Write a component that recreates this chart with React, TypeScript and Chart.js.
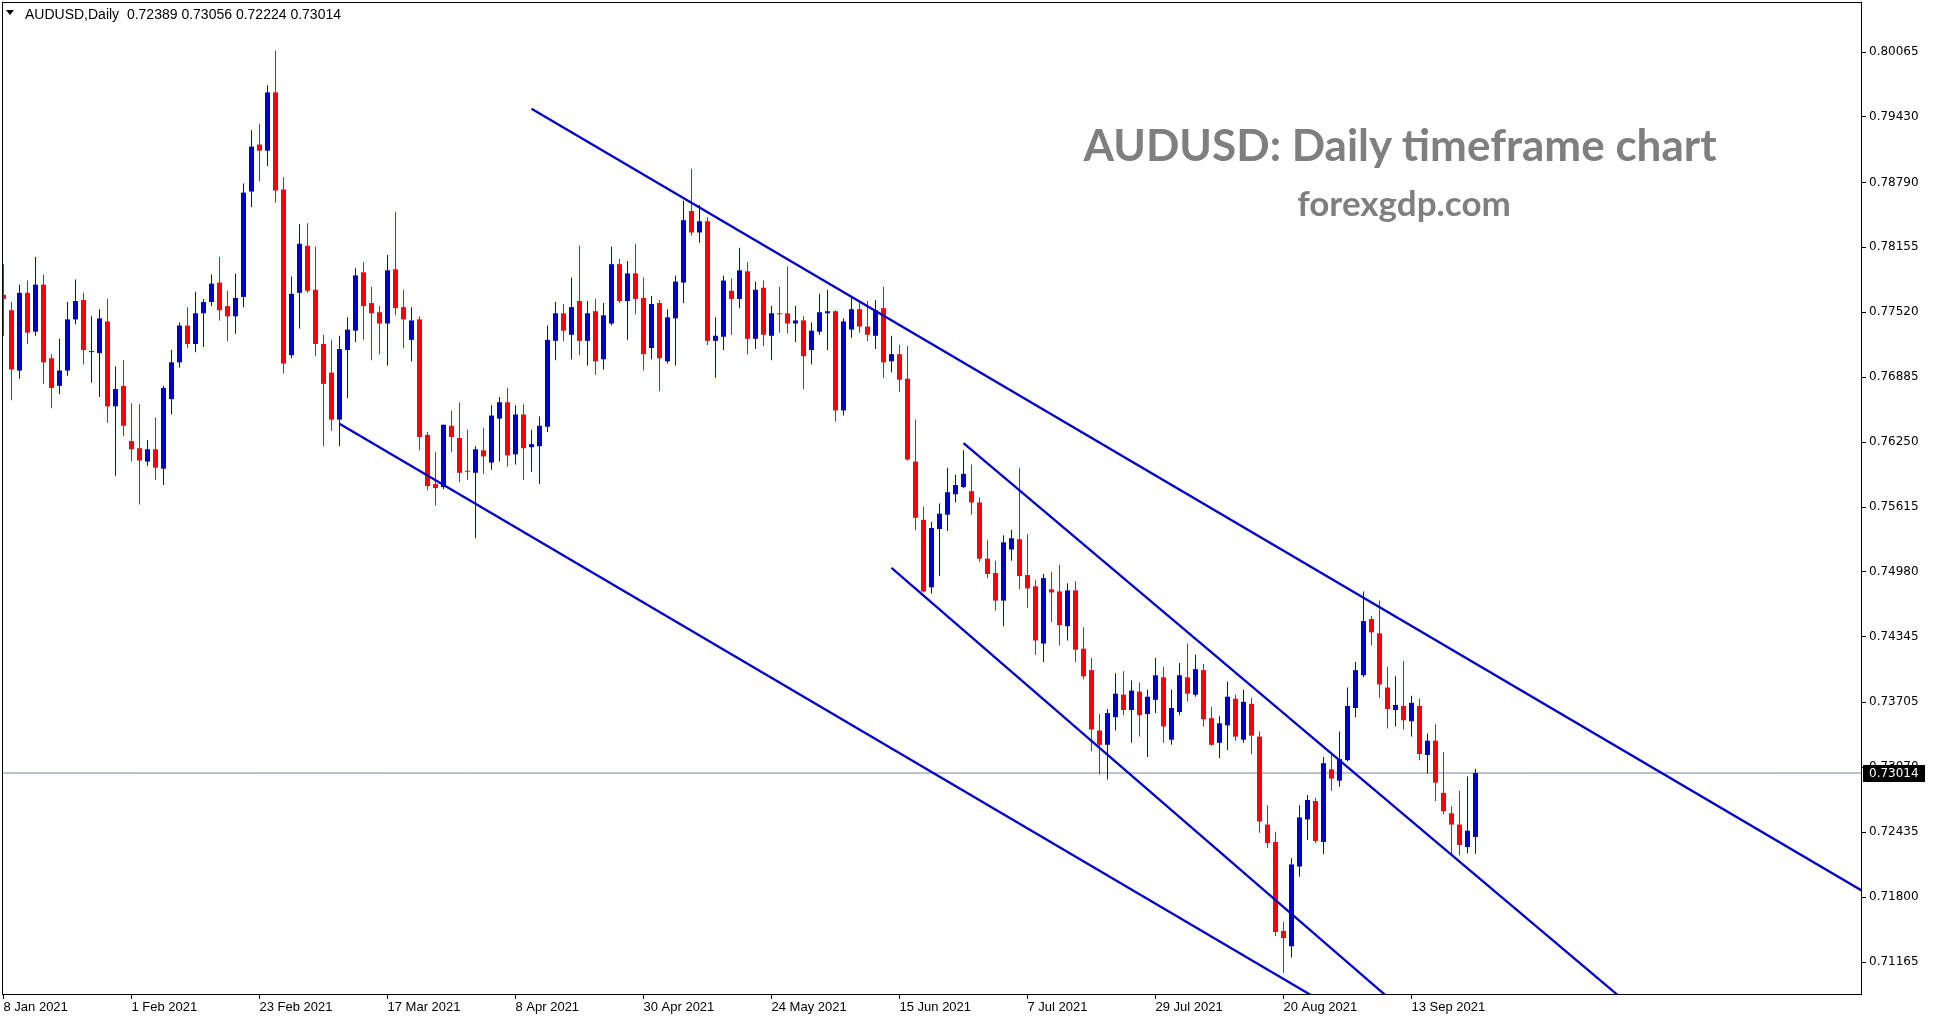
import { useEffect, useRef } from 'react';
import { Chart, registerables } from 'chart.js';

Chart.register(...registerables);

// ---- Data (AUDUSD daily, one entry per trading day starting 8 Jan 2021) ----
const opens = [
  0.7769, 0.7754, 0.7695, 0.7771, 0.7733, 0.7779, 0.7707, 0.7680, 0.7695, 0.7745,
  0.7764, 0.7713, 0.7712, 0.7743, 0.7660, 0.7680, 0.7626, 0.7619, 0.7606, 0.7618,
  0.7599, 0.7667, 0.7703, 0.7739, 0.7721, 0.7751, 0.7762, 0.7781, 0.7758, 0.7748,
  0.7767, 0.7870, 0.7916, 0.7910, 0.7967, 0.7872, 0.7710, 0.7771, 0.7817, 0.7774,
  0.7721, 0.7693, 0.7647, 0.7715, 0.7734, 0.7791, 0.7761, 0.7752, 0.7741, 0.7794,
  0.7757, 0.7725, 0.7745, 0.7632, 0.7584, 0.7581, 0.7641, 0.7629, 0.7597, 0.7595,
  0.7617, 0.7605, 0.7648, 0.7664, 0.7613, 0.7652, 0.7620, 0.7621, 0.7640, 0.7724,
  0.7751, 0.7730, 0.7763, 0.7724, 0.7753, 0.7706, 0.7741, 0.7799, 0.7763, 0.7790,
  0.7766, 0.7717, 0.7761, 0.7704, 0.7746, 0.7781, 0.7851, 0.7830, 0.7841, 0.7724,
  0.7728, 0.7773, 0.7765, 0.7792, 0.7726, 0.7776, 0.7729, 0.7751, 0.7751, 0.7741,
  0.7744, 0.7715, 0.7733, 0.7751, 0.7753, 0.7656, 0.7735, 0.7755, 0.7738, 0.7729,
  0.7756, 0.7704, 0.7711, 0.7687, 0.7606, 0.7549, 0.7483, 0.7540, 0.7554, 0.7574,
  0.7581, 0.7577, 0.7566, 0.7511, 0.7497, 0.7470, 0.7520, 0.7530, 0.7495, 0.7484,
  0.7428, 0.7481, 0.7479, 0.7445, 0.7480, 0.7423, 0.7402, 0.7343, 0.7329, 0.7356,
  0.7378, 0.7363, 0.7381, 0.7359, 0.7373, 0.7395, 0.7334, 0.7361, 0.7395, 0.7378,
  0.7402, 0.7355, 0.7331, 0.7348, 0.7374, 0.7334, 0.7369, 0.7337, 0.7251, 0.7234,
  0.7147, 0.7132, 0.7210, 0.7256, 0.7274, 0.7234, 0.7305, 0.7294, 0.7314, 0.7365,
  0.7397, 0.7452, 0.7438, 0.7385, 0.7363, 0.7367, 0.7352, 0.7367, 0.7319, 0.7333,
  0.7282, 0.7262, 0.7251, 0.7229, 0.72389,
];

const highs = [
  0.7799, 0.7762, 0.7779, 0.7783, 0.7806, 0.7789, 0.7711, 0.7726, 0.7762, 0.7784,
  0.7771, 0.7748, 0.7755, 0.7765, 0.7699, 0.7705, 0.7663, 0.7662, 0.7627, 0.7649,
  0.7680, 0.7715, 0.7742, 0.7757, 0.7772, 0.7765, 0.7789, 0.7806, 0.7773, 0.7790,
  0.7878, 0.7930, 0.7936, 0.7974, 0.8008, 0.7884, 0.7787, 0.7838, 0.7839, 0.7816,
  0.7730, 0.7725, 0.7729, 0.7747, 0.7795, 0.7801, 0.7777, 0.7758, 0.7808, 0.7850,
  0.7774, 0.7757, 0.7748, 0.7635, 0.7615, 0.7642, 0.7656, 0.7664, 0.7637, 0.7621,
  0.7639, 0.7661, 0.7669, 0.7678, 0.7661, 0.7662, 0.7637, 0.7650, 0.7739, 0.7762,
  0.7760, 0.7786, 0.7817, 0.7763, 0.7765, 0.7761, 0.7816, 0.7804, 0.7802, 0.7819,
  0.7786, 0.7768, 0.7764, 0.7755, 0.7788, 0.7861, 0.7892, 0.7857, 0.7845, 0.7747,
  0.7788, 0.7785, 0.7815, 0.7801, 0.7782, 0.7783, 0.7758, 0.7777, 0.7797, 0.7758,
  0.7748, 0.7742, 0.7770, 0.7774, 0.7754, 0.7746, 0.7766, 0.7761, 0.7763, 0.7764,
  0.7777, 0.7729, 0.7720, 0.7719, 0.7647, 0.7562, 0.7547, 0.7565, 0.7600, 0.7593,
  0.7617, 0.7603, 0.7571, 0.7529, 0.7509, 0.7534, 0.7539, 0.7600, 0.7535, 0.7490,
  0.7496, 0.7498, 0.7505, 0.7487, 0.7489, 0.7444, 0.7414, 0.7359, 0.7364, 0.7399,
  0.7401, 0.7392, 0.7390, 0.7383, 0.7414, 0.7405, 0.7383, 0.7409, 0.7428, 0.7417,
  0.7408, 0.7366, 0.7357, 0.7391, 0.7378, 0.7383, 0.7375, 0.7342, 0.7270, 0.7244,
  0.7156, 0.7218, 0.7270, 0.7280, 0.7277, 0.7317, 0.7320, 0.7342, 0.7385, 0.7410,
  0.7479, 0.7455, 0.7470, 0.7405, 0.7396, 0.7411, 0.7377, 0.7374, 0.7340, 0.7349,
  0.7322, 0.7269, 0.7284, 0.7298, 0.73056,
];

const lows = [
  0.7729, 0.7666, 0.7687, 0.7721, 0.7729, 0.7682, 0.7658, 0.7672, 0.7690, 0.7740,
  0.7701, 0.7683, 0.7669, 0.7644, 0.7592, 0.7631, 0.7606, 0.7564, 0.7602, 0.7588,
  0.7583, 0.7652, 0.7698, 0.7717, 0.7713, 0.7718, 0.7758, 0.7744, 0.7724, 0.7731,
  0.7757, 0.7855, 0.7880, 0.7895, 0.7859, 0.7692, 0.7707, 0.7736, 0.7771, 0.7709,
  0.7621, 0.7636, 0.7621, 0.7668, 0.7723, 0.7725, 0.7705, 0.7711, 0.7700, 0.7749,
  0.7717, 0.7704, 0.7617, 0.7578, 0.7563, 0.7579, 0.7615, 0.7586, 0.7588, 0.7531,
  0.7594, 0.7598, 0.7606, 0.7601, 0.7603, 0.7588, 0.7596, 0.7584, 0.7635, 0.7705,
  0.7724, 0.7706, 0.7710, 0.7700, 0.7691, 0.7696, 0.7739, 0.7761, 0.7725, 0.7750,
  0.7695, 0.7706, 0.7675, 0.7702, 0.7700, 0.7761, 0.7827, 0.7820, 0.7720, 0.7688,
  0.7715, 0.7730, 0.7756, 0.7711, 0.7716, 0.7719, 0.7705, 0.7732, 0.7731, 0.7723,
  0.7677, 0.7701, 0.7730, 0.7715, 0.7645, 0.7651, 0.7727, 0.7732, 0.7724, 0.7716,
  0.7688, 0.7693, 0.7674, 0.7607, 0.7539, 0.7478, 0.7477, 0.7494, 0.7538, 0.7566,
  0.7580, 0.7554, 0.7508, 0.7492, 0.7460, 0.7445, 0.7509, 0.7481, 0.7463, 0.7417,
  0.7410, 0.7449, 0.7426, 0.7431, 0.7410, 0.7393, 0.7323, 0.7300, 0.7295, 0.7343,
  0.7358, 0.7331, 0.7337, 0.7317, 0.7360, 0.7331, 0.7329, 0.7358, 0.7371, 0.7376,
  0.7347, 0.7328, 0.7316, 0.7324, 0.7333, 0.7331, 0.7320, 0.7243, 0.7228, 0.7142,
  0.7106, 0.7121, 0.7200, 0.7236, 0.7233, 0.7222, 0.7284, 0.7288, 0.7313, 0.7356,
  0.7395, 0.7426, 0.7375, 0.7345, 0.7347, 0.7344, 0.7337, 0.7314, 0.7301, 0.7274,
  0.7261, 0.7221, 0.7221, 0.7223, 0.72224,
];

const closes = [
  0.7765, 0.7696, 0.7771, 0.7732, 0.7779, 0.7703, 0.7678, 0.7695, 0.7745, 0.7763,
  0.7715, 0.7714, 0.7746, 0.7660, 0.7677, 0.7641, 0.7618, 0.7607, 0.7618, 0.7600,
  0.7678, 0.7703, 0.7739, 0.7721, 0.7751, 0.7762, 0.7780, 0.7754, 0.7748, 0.7766,
  0.7869, 0.7914, 0.7910, 0.7967, 0.7871, 0.7702, 0.7770, 0.7819, 0.7773, 0.7721,
  0.7682, 0.7647, 0.7716, 0.7735, 0.7788, 0.7758, 0.7751, 0.7741, 0.7793, 0.7756,
  0.7745, 0.7744, 0.7630, 0.7582, 0.7580, 0.7642, 0.7630, 0.7595, 0.7596, 0.7618,
  0.7611, 0.7651, 0.7664, 0.7612, 0.7652, 0.7619, 0.7623, 0.7641, 0.7725, 0.7751,
  0.7734, 0.7757, 0.7724, 0.7751, 0.7704, 0.7749, 0.7799, 0.7763, 0.7790, 0.7765,
  0.7711, 0.7760, 0.7707, 0.7747, 0.7782, 0.7842, 0.7830, 0.7841, 0.7724, 0.7729,
  0.7783, 0.7765, 0.7793, 0.7726, 0.7774, 0.7730, 0.7751, 0.7750, 0.7741, 0.7744,
  0.7709, 0.7734, 0.7752, 0.7753, 0.7656, 0.7743, 0.7755, 0.7738, 0.7730, 0.7754,
  0.7703, 0.7711, 0.7686, 0.7608, 0.7551, 0.7479, 0.7541, 0.7555, 0.7576, 0.7583,
  0.7594, 0.7566, 0.7511, 0.7496, 0.7470, 0.7527, 0.7531, 0.7494, 0.7482, 0.7431,
  0.7492, 0.7478, 0.7446, 0.7480, 0.7422, 0.7396, 0.7344, 0.7329, 0.7360, 0.7379,
  0.7363, 0.7382, 0.7358, 0.7376, 0.7397, 0.7347, 0.7365, 0.7397, 0.7379, 0.7403,
  0.7354, 0.7329, 0.7350, 0.7376, 0.7337, 0.7371, 0.7338, 0.7254, 0.7233, 0.7146,
  0.7140, 0.7212, 0.7258, 0.7275, 0.7235, 0.7311, 0.7296, 0.7315, 0.7367, 0.7402,
  0.7450, 0.7439, 0.7388, 0.7364, 0.7368, 0.7353, 0.7370, 0.7320, 0.7333, 0.7292,
  0.7264, 0.7251, 0.7231, 0.7245, 0.73014,
];

// x-axis date labels, one every 16 trading days (bar index 0, 16, 32, ...)
const xTickLabels = [
  '8 Jan 2021', '1 Feb 2021', '23 Feb 2021', '17 Mar 2021', '8 Apr 2021', '30 Apr 2021',
  '24 May 2021', '15 Jun 2021', '7 Jul 2021', '29 Jul 2021', '20 Aug 2021', '13 Sep 2021',
];
const barsPerLabel = 16;

const yTickValues = [
  0.80065, 0.7943, 0.7879, 0.78155, 0.7752, 0.76885, 0.7625, 0.75615,
  0.7498, 0.74345, 0.73705, 0.7307, 0.72435, 0.718, 0.71165,
];

const lastPrice = 0.73014;

// Trend lines: [bar index, price]
const upperChannel = [[66, 0.7951], [240, 0.7151]];
const lowerChannel = [[42, 0.7643], [170, 0.7054]];
const innerUpper = [[120, 0.7624], [205, 0.7063]];
const innerLower = [[111, 0.7502], [180, 0.7035]];

const BULL = '#0000CD';
const BEAR = '#FF0000';
const LINE = '#0000C8';

const W = 1933;
const H = 1023;
const AXIS_W = 72;
const AXIS_H = 29;
const PAD = 2;
const PX_PER_BAR = 8;

const toPts = (arr: number[][]) => arr.map(([x, y]) => ({ x, y }));

export default function App() {
  const ref = useRef<HTMLCanvasElement>(null);

  useEffect(() => {
    document.body.style.margin = '0';
    const canvas = ref.current;
    if (!canvas) return;

    const colors = closes.map((c, i) => (c >= opens[i] ? BULL : BEAR));
    const plotW = W - AXIS_W - PAD;
    const xMin = -1.5 / PX_PER_BAR;
    const xMax = xMin + plotW / PX_PER_BAR;

    const framePlugin = {
      id: 'mt4frame',
      afterDraw(chart: any) {
        const { ctx, chartArea } = chart;
        const { left, top, right, bottom } = chartArea;
        ctx.save();
        ctx.strokeStyle = '#000';
        ctx.lineWidth = 1;
        ctx.strokeRect(left + 0.5, top + 0.5, right - left, bottom - top);
        // current price box
        const y = chart.scales.y.getPixelForValue(lastPrice);
        ctx.fillStyle = '#000';
        ctx.fillRect(right + 2, Math.round(y) - 8, 62, 17);
        ctx.fillStyle = '#fff';
        ctx.font = '12px "DejaVu Sans"';
        ctx.textBaseline = 'middle';
        ctx.textAlign = 'left';
        ctx.fillText(lastPrice.toFixed(5), right + 8, Math.round(y) + 1);
        ctx.restore();
      },
    };

    const zeroPad = (s: any) => {
      s.paddingTop = 0;
      s.paddingBottom = 0;
      s.paddingLeft = 0;
      s.paddingRight = 0;
    };

    const lineDs = (pts: number[][], color: string, width: number, order: number) => ({
      type: 'line' as const,
      data: toPts(pts),
      borderColor: color,
      borderWidth: width,
      pointRadius: 0,
      fill: false,
      tension: 0,
      clip: 0,
      order,
    });

    const chart = new Chart(canvas, {
      type: 'bar',
      data: {
        datasets: [
          lineDs([[xMin - 5, lastPrice], [xMax + 5, lastPrice]], '#778899', 1, 5) as any,
          {
            type: 'bar',
            data: lows.map((l, i) => ({ x: i, y: [l, highs[i]] })) as any,
            backgroundColor: colors,
            barThickness: 1,
            grouped: false,
            borderWidth: 0,
            inflateAmount: 0,
            order: 4,
          } as any,
          {
            type: 'bar',
            data: opens.map((o, i) => ({ x: i, y: [o, closes[i]] })) as any,
            backgroundColor: colors,
            barThickness: 5,
            minBarLength: 1,
            grouped: false,
            borderWidth: 0,
            inflateAmount: 0,
            order: 3,
          } as any,
          lineDs(upperChannel, LINE, 2.3, 1) as any,
          lineDs(lowerChannel, LINE, 2.3, 1) as any,
          lineDs(innerUpper, LINE, 2.3, 1) as any,
          lineDs(innerLower, LINE, 2.3, 1) as any,
        ],
      },
      options: {
        responsive: false,
        animation: false,
        events: [],
        devicePixelRatio: 1,
        layout: { padding: { left: PAD, top: PAD, right: 0, bottom: 0 } },
        plugins: { legend: { display: false }, tooltip: { enabled: false } },
        scales: {
          x: {
            type: 'linear',
            position: 'bottom',
            min: xMin,
            max: xMax,
            offset: false,
            afterFit: (s: any) => {
              s.height = AXIS_H;
              zeroPad(s);
            },
            afterBuildTicks: (s: any) => {
              s.ticks = xTickLabels.map((_, k) => ({ value: k * barsPerLabel }));
            },
            grid: {
              offset: false,
              drawOnChartArea: false,
              drawTicks: true,
              tickLength: 5,
              tickColor: '#000',
              color: '#000',
            },
            border: { display: false },
            ticks: {
              autoSkip: false,
              maxRotation: 0,
              minRotation: 0,
              align: 'start',
              padding: 1,
              color: '#000',
              font: { family: 'Liberation Sans', size: 13 },
              callback: (v: any) => {
                const k = Math.round(Number(v) / barsPerLabel);
                return k * barsPerLabel === Number(v) && xTickLabels[k] ? xTickLabels[k] : '';
              },
            },
          } as any,
          y: {
            type: 'linear',
            position: 'right',
            min: 0.70853,
            max: 0.80554,
            beginAtZero: false,
            afterFit: (s: any) => {
              s.width = AXIS_W;
              zeroPad(s);
            },
            afterBuildTicks: (s: any) => {
              s.ticks = yTickValues.map((v) => ({ value: v }));
            },
            grid: {
              drawOnChartArea: false,
              drawTicks: true,
              tickLength: 5,
              tickColor: '#000',
              color: '#000',
            },
            border: { display: false },
            ticks: {
              padding: 3,
              color: '#000',
              font: { family: 'DejaVu Sans', size: 12 },
              callback: (v: any) => Number(v).toFixed(5),
            },
          } as any,
        },
      },
      plugins: [framePlugin],
    });

    return () => chart.destroy();
  }, []);

  return (
    <div style={{ position: 'fixed', left: 0, top: 0, width: W, height: H, background: '#fff', overflow: 'hidden' }}>
      <canvas ref={ref} width={W} height={H} style={{ position: 'absolute', left: 0, top: 0, width: W, height: H }} />
      <div
        style={{
          position: 'absolute', left: 6, top: 10, width: 0, height: 0,
          borderLeft: '4.5px solid transparent', borderRight: '4.5px solid transparent', borderTop: '5px solid #000',
        }}
      />
      <div
        style={{
          position: 'absolute', left: 25, top: 7, fontFamily: '"Liberation Sans", Arial, sans-serif',
          fontSize: 14, lineHeight: '14px', color: '#000', whiteSpace: 'pre',
        }}
      >
        {'AUDUSD,Daily  0.72389 0.73056 0.72224 0.73014'}
      </div>
      <div
        style={{
          position: 'absolute', left: 1400, top: 122, transform: 'translateX(-50%)', fontFamily: 'Lato, sans-serif',
          fontWeight: 700, fontSize: 44, lineHeight: '44px', color: '#7f7f7f', whiteSpace: 'nowrap',
        }}
      >
        AUDUSD: Daily timeframe chart
      </div>
      <div
        style={{
          position: 'absolute', left: 1404, top: 185, transform: 'translateX(-50%)', fontFamily: 'Lato, sans-serif',
          fontWeight: 700, fontSize: 35, lineHeight: '35px', color: '#7f7f7f', whiteSpace: 'nowrap',
        }}
      >
        forexgdp.com
      </div>
    </div>
  );
}
